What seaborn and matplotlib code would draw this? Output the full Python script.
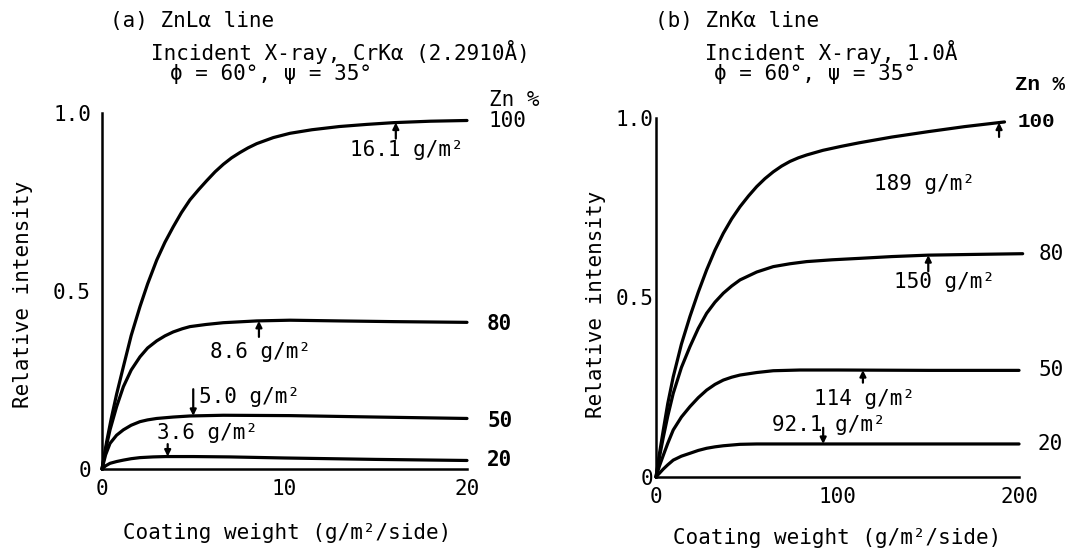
import numpy as np
import matplotlib
matplotlib.use("Agg")
import matplotlib.pyplot as plt
import seaborn as sns

# (a) ZnLa line, coating weight 0-20 g/m2
a_x100 = [0, 0.25, 0.5, 0.8, 1.17, 1.6, 2.08, 2.5, 3.0, 3.45, 3.9, 4.35, 4.82, 5.3, 5.74, 6.2, 6.65,
          7.1, 7.56, 8.0, 8.48, 9.39, 10.3, 11.5, 13, 14.5, 16, 18, 20]
a_y100 = [0, 0.075, 0.14, 0.21, 0.287, 0.375, 0.456, 0.52, 0.587, 0.637, 0.68, 0.72, 0.756, 0.785, 0.81,
          0.835, 0.856, 0.874, 0.889, 0.902, 0.914, 0.931, 0.943, 0.953, 0.962, 0.968, 0.973, 0.977, 0.979]
a_x80 = [0, 0.2, 0.44, 0.8, 1.17, 1.6, 2.08, 2.5, 3.0, 3.45, 3.9, 4.4, 4.82, 5.7, 6.65, 8.48, 10.3, 13, 16, 20]
a_y80 = [0, 0.055, 0.11, 0.175, 0.231, 0.278, 0.315, 0.34, 0.36, 0.374, 0.385, 0.394, 0.40, 0.406, 0.411,
         0.416, 0.418, 0.416, 0.414, 0.412]
a_x50 = [0, 0.2, 0.44, 0.8, 1.17, 1.6, 2.08, 2.5, 3.0, 3.9, 4.82, 6.65, 10.3, 15, 20]
a_y50 = [0, 0.04, 0.072, 0.095, 0.11, 0.123, 0.133, 0.138, 0.142, 0.146, 0.149, 0.151, 0.15, 0.146, 0.142]
a_x20 = [0, 0.2, 0.44, 0.8, 1.17, 1.6, 2.08, 2.8, 3.5, 5, 7, 10, 15, 20]
a_y20 = [0, 0.009, 0.016, 0.021, 0.025, 0.029, 0.032, 0.034, 0.035, 0.035, 0.034, 0.031, 0.027, 0.024]

# (b) ZnKa line, coating weight 0-200 g/m2
b_x100 = [0, 2, 4, 6.5, 9.5, 14, 18.7, 23.3, 27.9, 32.5, 37.1, 41.7, 46.3, 51, 55.5, 60, 64.6, 69.2,
          73.8, 78.4, 83, 92, 102, 112, 130, 150, 170, 192]
b_y100 = [0, 0.068, 0.13, 0.205, 0.279, 0.37, 0.447, 0.515, 0.577, 0.632, 0.679, 0.719, 0.753, 0.783,
          0.809, 0.831, 0.85, 0.866, 0.879, 0.889, 0.897, 0.91, 0.921, 0.931, 0.947, 0.962, 0.976, 0.989]
b_x80 = [0, 2, 4, 6.5, 9.5, 14, 18.7, 23.3, 27.9, 32.5, 37.1, 41.7, 46.3, 55.5, 64.6, 73.8, 83, 97,
         112, 130, 150, 175, 202]
b_y80 = [0, 0.058, 0.11, 0.17, 0.233, 0.305, 0.363, 0.414, 0.456, 0.487, 0.512, 0.532, 0.549, 0.571,
         0.586, 0.594, 0.60, 0.605, 0.609, 0.614, 0.618, 0.62, 0.622]
b_x50 = [0, 2, 4, 6.5, 9.5, 14, 18.7, 23.3, 27.9, 32.5, 37.1, 41.7, 46.3, 55.5, 64.6, 79.3, 100, 150, 200]
b_y50 = [0, 0.032, 0.06, 0.094, 0.131, 0.167, 0.196, 0.221, 0.242, 0.258, 0.27, 0.278, 0.284, 0.291,
         0.296, 0.298, 0.298, 0.297, 0.297]
b_x20 = [0, 2, 4, 6.5, 9.5, 14, 18.7, 23.3, 27.9, 32.5, 37.1, 46.3, 55.5, 64.6, 100, 150, 200]
b_y20 = [0, 0.011, 0.022, 0.034, 0.047, 0.058, 0.066, 0.074, 0.08, 0.084, 0.087, 0.091, 0.092, 0.092,
         0.092, 0.092, 0.092]

zn_labels = ["100", "80", "50", "20"]
a_marks = [16.1, 8.6, 5.0, 3.6]      # saturation thickness, g/m2
b_marks = [189, 150, 114, 92.1]

sns.set_style("white")
plt.rcParams["font.family"] = ["DejaVu Sans Mono", "DejaVu Sans"]
plt.rcParams["font.size"] = 15
plt.rcParams["text.color"] = "black"
plt.rcParams["axes.labelcolor"] = "black"

fig = plt.figure(figsize=(10.85, 5.54), dpi=100)
ax1 = fig.add_axes([0.094, 0.1534, 0.3364, 0.6426])
ax2 = fig.add_axes([0.6046, 0.139, 0.3346, 0.648])

curves_a = [(a_x100, a_y100), (a_x80, a_y80), (a_x50, a_y50), (a_x20, a_y20)]
curves_b = [(b_x100, b_y100), (b_x80, b_y80), (b_x50, b_y50), (b_x20, b_y20)]

for ax, curves in [(ax1, curves_a), (ax2, curves_b)]:
    for xs, ys in curves:
        sns.lineplot(x=xs, y=ys, ax=ax, color="black", lw=2.3, clip_on=False)
    sns.despine(ax=ax)
    for s in ["left", "bottom"]:
        ax.spines[s].set_linewidth(1.8)
        ax.spines[s].set_color("black")
    ax.set_ylim(0, 1.0)
    ax.set_yticks([0, 0.5, 1.0])
    ax.set_yticklabels(["0", "0.5", "1.0"])
    ax.tick_params(axis="y", direction="in", length=7, width=1.8, colors="black")
    ax.tick_params(axis="x", direction="in", length=5, width=1.5, colors="black", pad=7)
    ax.yaxis.get_major_ticks()[-1].tick1line.set_markersize(13)

ax1.set_xlim(0, 20)
ax1.set_xticks([0, 10, 20])
ax1.tick_params(axis="y", pad=8)
ax2.set_xlim(0, 200)
ax2.set_xticks([0, 100, 200])
ax2.tick_params(axis="y", pad=2)

# small arrows pointing at the saturation thickness on each curve
def mark(ax, xs, ys, w, d):
    yc = np.interp(w, xs, ys)
    ax.annotate("", xy=(w, yc), xytext=(w, yc + d),
                arrowprops=dict(arrowstyle="-|>", lw=1.6, color="black",
                                mutation_scale=9, shrinkA=0, shrinkB=0))

a_dirs = [-0.045, -0.045, 0.075, 0.035]
b_dirs = [-0.04, -0.045, -0.035, 0.045]
for (xs, ys), w, d in zip(curves_a, a_marks, a_dirs):
    mark(ax1, xs, ys, w, d)
for (xs, ys), w, d in zip(curves_b, b_marks, b_dirs):
    mark(ax2, xs, ys, w, d)

a_txt = [(13.6, 0.896), (5.9, 0.329), (5.3, 0.203), (3.0, 0.101)]
b_txt = [(120, 0.816), (131, 0.543), (87, 0.217), (64, 0.145)]
for (tx, ty), w in zip(a_txt, a_marks):
    ax1.text(tx, ty, f"{w} g/m²", ha="left", va="center")
for (tx, ty), w in zip(b_txt, b_marks):
    ax2.text(tx, ty, f"{w} g/m²", ha="left", va="center")

# Zn % labels at the curve ends
ax1.text(21.2, 1.037, "Zn %", ha="left", va="center")
a_lab = [(21.2, 0.978, "normal"), (21.1, 0.406, "bold"), (21.1, 0.135, "bold"), (21.1, 0.024, "bold")]
for (lx, ly, fw), lab in zip(a_lab, zn_labels):
    ax1.text(lx, ly, lab, ha="left", va="center", fontweight=fw)

ax2.text(197.8, 1.092, "Zn %", ha="left", va="center", fontweight="bold",
         family=["Liberation Mono", "DejaVu Sans Mono"])
b_lab = [(199, 0.989), (211, 0.622), (211, 0.297), (210, 0.092)]
for (lx, ly), lab in zip(b_lab, zn_labels):
    if lab == "100":
        ax2.text(lx, ly, lab, ha="left", va="center", fontweight="bold",
                 family=["Liberation Mono", "DejaVu Sans Mono"])
    else:
        ax2.text(lx, ly, lab, ha="left", va="center")

# panel headings
fig.text(0.1014, 0.962, "(a) ZnLα line", ha="left", va="center")
fig.text(0.139, 0.906, "Incident X-ray, CrKα (2.2910Å)", ha="left", va="center")
fig.text(0.1567, 0.866, "ϕ = 60°, ψ = 35°", ha="left", va="center")
fig.text(0.6037, 0.962, "(b) ZnKα line", ha="left", va="center")
fig.text(0.6498, 0.906, "Incident X-ray, 1.0Å", ha="left", va="center")
fig.text(0.658, 0.866, "ϕ = 60°, ψ = 35°", ha="left", va="center")

# axis titles
fig.text(0.021, 0.468, "Relative intensity", rotation=90, ha="center", va="center")
fig.text(0.549, 0.45, "Relative intensity", rotation=90, ha="center", va="center")
fig.text(0.265, 0.038, "Coating weight (g/m²/side)", ha="center", va="center")
fig.text(0.772, 0.028, "Coating weight (g/m²/side)", ha="center", va="center")

fig.savefig("out.png", dpi=100, facecolor="white")
